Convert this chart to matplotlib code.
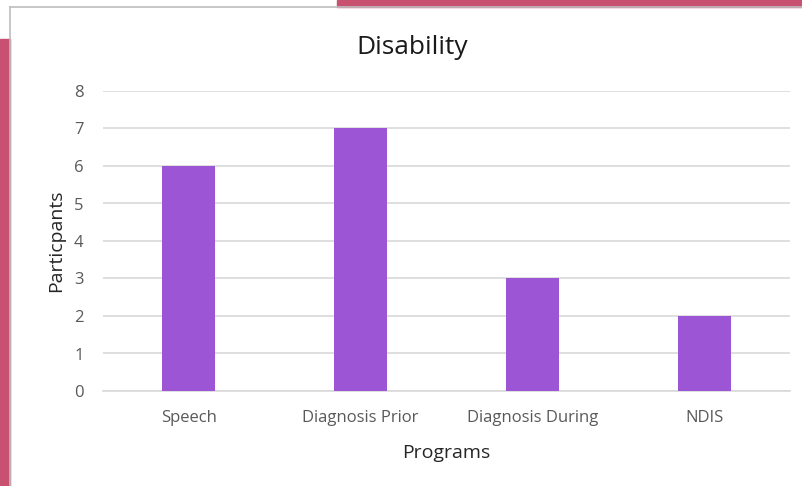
import matplotlib
matplotlib.use("Agg")
import matplotlib.pyplot as plt
from matplotlib.patches import Rectangle
from matplotlib.lines import Line2D

categories = ["Speech", "Diagnosis Prior", "Diagnosis During", "NDIS"]
values = [6, 7, 3, 2]
yticks = [0, 1, 2, 3, 4, 5, 6, 7, 8]

plt.rcParams['font.family'] = ['Open Sans', 'DejaVu Sans']

W, H = 803, 486
fig = plt.figure(figsize=(W / 100, H / 100), dpi=100)
fig.patch.set_facecolor("white")

pink = "#C85172"
# decorative window background pieces
fig.patches.append(Rectangle((337 / W, 1 - 7 / H), 1 - 337 / W, 7 / H,
                             transform=fig.transFigure, color=pink, zorder=0))
fig.patches.append(Rectangle((0, 0), 10 / W, 1 - 39 / H,
                             transform=fig.transFigure, color=pink, zorder=0))
fig.lines.append(Line2D([10.5 / W, 10.5 / W], [0, 1 - 7.5 / H], transform=fig.transFigure,
                        color="#BDBDBD", lw=1.2))
fig.lines.append(Line2D([10.5 / W, 1], [1 - 7.5 / H, 1 - 7.5 / H], transform=fig.transFigure,
                        color="#BDBDBD", lw=1.2))

ax = fig.add_axes([103 / W, 1 - 391 / H, (790 - 103) / W, (391 - 91) / H])
x = list(range(len(categories)))
ax.bar(x, values, width=0.31, color="#9C56D5", zorder=3)
ax.set_xlim(-0.5, len(categories) - 0.5)
ax.set_ylim(0, 8)
ax.set_yticks(yticks)
ax.set_xticks(x)
ax.set_xticklabels(categories)
ax.yaxis.grid(True, color="#D9D9D9", lw=1.2, zorder=0)
for s in ["top", "right", "left"]:
    ax.spines[s].set_visible(False)
ax.spines["bottom"].set_color("#D9D9D9")
ax.spines["bottom"].set_linewidth(1.2)
ax.tick_params(axis="both", length=0, colors="#595959", labelsize=12)
ax.tick_params(axis="x", pad=14)
ax.tick_params(axis="y", pad=14)
fig.text(412 / W, 1 - 48 / H, "Disability", fontsize=19, color="#1A1A1A",
         ha="center", va="center")
ax.set_xlabel("Programs", fontsize=14, color="#262626", labelpad=13)
ax.set_ylabel("Particpants", fontsize=14, color="#262626", labelpad=6)

fig.savefig("out.png", dpi=100)
